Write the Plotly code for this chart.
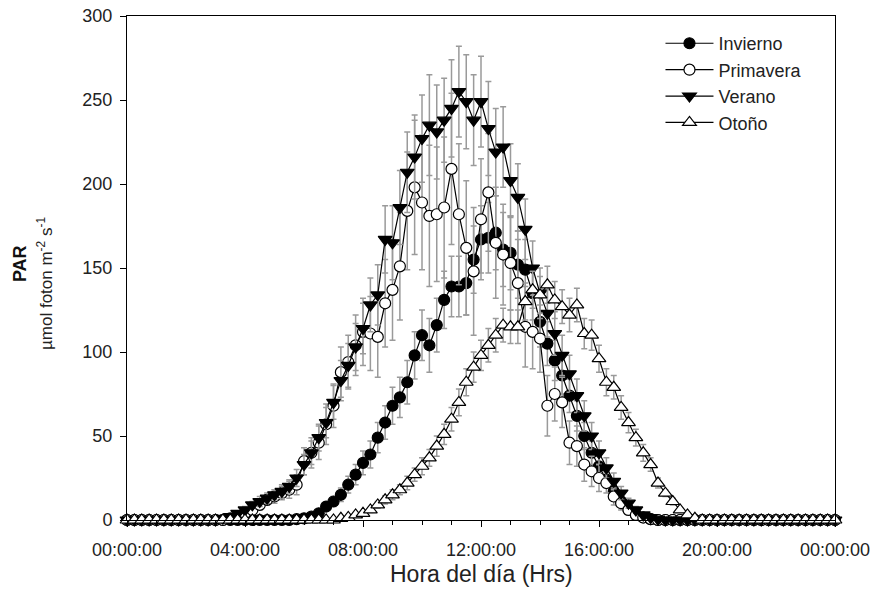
import pandas as pd
import plotly.graph_objects as go

# 15-minute time stamps across one day (00:00 -> next 00:00)
times = pd.date_range("2000-01-01 00:00", "2000-01-02 00:00", freq="15min")

series_names = ["Invierno", "Primavera", "Verano", "Otoño"]

invierno = [
    0, 0, 0, 0, 0, 0, 0, 0,
    0, 0, 0, 0, 0, 0, 0, 0,
    0, 0, 0, 0, 0, 0, 0, 0.5,
    1, 2, 4, 8, 11, 15, 21, 27,
    34, 39, 49, 58, 68, 73, 82, 98,
    110, 104, 116, 131, 139, 139, 141, 155,
    167, 168, 171, 161, 159, 152, 149, 135,
    118, 105, 95, 86, 74, 62, 50, 40,
    32, 24, 17, 11, 6, 3, 1.5, 0.5,
    0, 0, 0, 0, 0, 0, 0, 0,
    0, 0, 0, 0, 0, 0, 0, 0,
    0, 0, 0, 0, 0, 0, 0, 0,
    0,
]
invierno_err = [
    0, 0, 0, 0, 0, 0, 0, 0,
    0, 0, 0, 0, 0, 0, 0, 0,
    0, 0, 0, 0, 0, 0, 0, 0,
    0.5, 1, 1.5, 2, 3, 4, 5, 6,
    7, 8, 9, 10, 11, 12, 13, 14,
    15, 16, 16, 17, 18, 18, 19, 20,
    20, 21, 22, 22, 22, 20, 18, 16,
    15, 13, 12, 11, 10, 9, 8, 7,
    6, 5, 4, 3, 2, 1, 0.5, 0,
    0, 0, 0, 0, 0, 0, 0, 0,
    0, 0, 0, 0, 0, 0, 0, 0,
    0, 0, 0, 0, 0, 0, 0, 0,
    0,
]

primavera = [
    0, 0, 0, 0, 0, 0, 0, 0,
    0, 0, 0, 0, 0, 0, 1, 2,
    4, 6, 9, 12, 14, 16, 18, 21,
    35, 40, 46, 57, 68, 88, 94, 104,
    112, 111, 109, 129, 137, 151, 184, 198,
    189, 181, 182, 186, 209, 182, 162, 148,
    179, 195, 165, 158, 153, 141, 115, 112,
    108, 68, 75, 70, 46, 44, 33, 29,
    25, 22, 14, 10, 6, 3, 1.5, 0.5,
    0, 0, 0, 0, 0, 0, 0, 0,
    0, 0, 0, 0, 0, 0, 0, 0,
    0, 0, 0, 0, 0, 0, 0, 0,
    0,
]
primavera_err = [
    0, 0, 0, 0, 0, 0, 0, 0,
    0, 0, 0, 0, 0, 0, 0.5, 1,
    1.5, 2, 3, 3, 4, 4, 5, 6,
    8, 9, 10, 12, 13, 15, 16, 18,
    20, 22, 24, 26, 30, 32, 35, 40,
    40, 42, 40, 42, 45, 42, 40, 38,
    36, 35, 33, 30, 28, 26, 24, 22,
    20, 18, 16, 15, 13, 12, 10, 9,
    8, 6, 5, 4, 3, 2, 1, 0.5,
    0, 0, 0, 0, 0, 0, 0, 0,
    0, 0, 0, 0, 0, 0, 0, 0,
    0, 0, 0, 0, 0, 0, 0, 0,
    0,
]

verano = [
    0, 0, 0, 0, 0, 0, 0, 0,
    0, 0, 0, 0, 0, 1, 2, 4,
    6, 9, 11, 13, 15, 17, 20, 25,
    33, 40, 49, 58, 70, 83, 92, 103,
    114, 128, 134, 167, 165, 186, 207, 216,
    227, 235, 231, 238, 245, 255, 249, 238,
    249, 233, 219, 222, 202, 192, 173, 150,
    135, 123, 111, 98, 87, 74, 62, 50,
    40, 31, 23, 16, 10, 6, 3, 1.5,
    0.5, 0, 0, 0, 0, 0, 0, 0,
    0, 0, 0, 0, 0, 0, 0, 0,
    0, 0, 0, 0, 0, 0, 0, 0,
    0,
]
verano_err = [
    0, 0, 0, 0, 0, 0, 0, 0,
    0, 0, 0, 0, 0, 0.5, 1, 1.5,
    2, 2, 3, 3, 3, 4, 4, 5,
    6, 7, 8, 9, 10, 12, 13, 14,
    15, 16, 18, 20, 22, 22, 24, 25,
    26, 30, 28, 25, 29, 27, 28, 27,
    27, 28, 26, 24, 22, 20, 18, 16,
    15, 14, 13, 12, 11, 10, 9, 8,
    7, 6, 5, 4, 3, 2, 1, 0.5,
    0, 0, 0, 0, 0, 0, 0, 0,
    0, 0, 0, 0, 0, 0, 0, 0,
    0, 0, 0, 0, 0, 0, 0, 0,
    0,
]

otono = [
    0, 0, 0, 0, 0, 0, 0, 0,
    0, 0, 0, 0, 0, 0, 0, 0,
    0, 0, 0, 0, 0, 0, 0, 0,
    0, 0, 0, 0, 0, 1, 1.5, 3,
    4, 6, 9, 12, 15, 18, 22, 27,
    32, 37, 44, 51, 60, 70, 82, 91,
    98, 104, 110, 116, 115, 115, 130, 137,
    134, 140, 131, 127, 122, 128, 111, 110,
    96, 82, 79, 67, 58, 49, 40, 33,
    22, 16, 11, 6, 3, 1, 0, 0,
    0, 0, 0, 0, 0, 0, 0, 0,
    0, 0, 0, 0, 0, 0, 0, 0,
    0,
]
otono_err = [
    0, 0, 0, 0, 0, 0, 0, 0,
    0, 0, 0, 0, 0, 0, 0, 0,
    0, 0, 0, 0, 0, 0, 0, 0,
    0, 0, 0, 0, 0, 0.5, 0.5, 1,
    1, 1.5, 2, 2.5, 3, 3, 4, 4,
    5, 5, 6, 6, 7, 8, 8, 9,
    9, 10, 10, 10, 10, 10, 11, 11,
    11, 11, 11, 10, 10, 10, 9, 9,
    8, 8, 7, 7, 6, 5, 5, 4,
    3, 2, 2, 1, 0.5, 0, 0, 0,
    0, 0, 0, 0, 0, 0, 0, 0,
    0, 0, 0, 0, 0, 0, 0, 0,
    0,
]

x_tick_format = "%H:%M:%S"

FONT = "Liberation Sans, Arial, sans-serif"
ERR_COLOR = "#9a9a9a"

styles = {
    "Invierno": dict(symbol="circle", size=11, color="black"),
    "Primavera": dict(symbol="circle", size=11, color="white"),
    "Verano": dict(symbol="triangle-down", size=12, color="black"),
    "Otoño": dict(symbol="triangle-up", size=12, color="white"),
}
values = {"Invierno": (invierno, invierno_err),
          "Primavera": (primavera, primavera_err),
          "Verano": (verano, verano_err),
          "Otoño": (otono, otono_err)}

fig = go.Figure()
for name in series_names:
    y, e = values[name]
    st = styles[name]
    fig.add_trace(go.Scatter(
        x=times, y=y, name=name, mode="lines+markers",
        line=dict(color="black", width=1.2),
        marker=dict(symbol=st["symbol"], size=st["size"], color=st["color"],
                    line=dict(color="black", width=1.2)),
        error_y=dict(type="data", array=e, visible=True, color=ERR_COLOR,
                     thickness=1.5, width=3),
        cliponaxis=False,
    ))

fig.update_layout(
    width=878, height=606,
    margin=dict(l=127, r=43, t=16, b=86, autoexpand=False),
    paper_bgcolor="white", plot_bgcolor="white",
    font=dict(family=FONT, color="#222222", size=18),
    showlegend=True,
    legend=dict(x=0.7535, y=0.982, xanchor="left", yanchor="top",
                font=dict(family=FONT, size=18, color="#222222"),
                bgcolor="rgba(0,0,0,0)", borderwidth=0,
                itemwidth=48, tracegroupgap=0),
    xaxis=dict(
        type="date",
        range=[times[0], times[-1]],
        tick0=times[0], dtick=4 * 3600 * 1000,
        tickformat=x_tick_format,
        ticks="outside", ticklen=6, tickwidth=1, tickcolor="black",
        minor=dict(dtick=3600 * 1000, ticks="outside", ticklen=4,
                   tickcolor="black", showgrid=False),
        showline=True, linecolor="black", linewidth=1, mirror=True,
        showgrid=False, zeroline=False,
        tickfont=dict(size=18, color="#222222"),
        ticklabelstandoff=7,
    ),
    yaxis=dict(
        range=[0, 300], dtick=50,
        ticks="outside", ticklen=6, tickwidth=1, tickcolor="black",
        showline=True, linecolor="black", linewidth=1, mirror=True,
        showgrid=False, zeroline=False,
        tickfont=dict(size=18, color="#222222"),
        ticklabelstandoff=4,
    ),
    annotations=[
        dict(text="Hora del día (Hrs)", xref="paper", yref="paper",
             x=0.5, y=-0.107, xanchor="center", yanchor="middle",
             showarrow=False, font=dict(size=23, color="#222222", family=FONT)),
        dict(text="<b>PAR</b>", xref="paper", yref="paper",
             x=-0.151, y=0.508, xanchor="center", yanchor="middle",
             textangle=-90, showarrow=False,
             font=dict(size=18, color="#111111", family=FONT)),
        dict(text="µmol foton m<sup>-2</sup> s<sup>-1</sup>", xref="paper", yref="paper",
             x=-0.116, y=0.47, xanchor="center", yanchor="middle",
             textangle=-90, showarrow=False,
             font=dict(size=17, color="#222222", family=FONT)),
    ],
)

fig.write_html("out.html", config={"displayModeBar": False},
               post_script="document.body.style.margin='0px';")
